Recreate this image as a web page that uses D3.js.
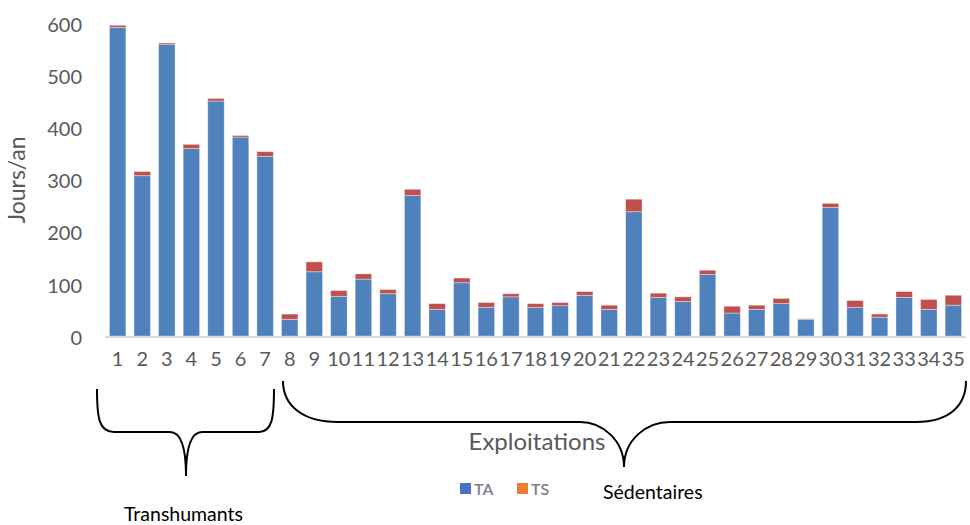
<!DOCTYPE html>
<html>
<head>
<meta charset="utf-8">
<script src="https://cdn.jsdelivr.net/npm/d3@7"></script>
<style>
  html, body { margin: 0; padding: 0; background: #ffffff; }
  svg { display: block; }
</style>
</head>
<body>
<svg id="chart" width="970" height="525"></svg>
<script>
const categories = ["1","2","3","4","5","6","7","8","9","10","11","12","13","14","15","16","17","18","19","20","21","22","23","24","25","26","27","28","29","30","31","32","33","34","35"];
const seriesNames = ["TA", "TS"];
const TA = [591, 307, 558, 359, 450, 381, 344, 32, 123, 76, 109, 81, 269, 51, 102, 55, 75, 55, 58, 78, 51, 238, 74, 66, 118, 44, 51, 62, 32, 246, 55, 36, 74, 51, 59];
const TS = [4, 8, 3, 8, 5, 3, 9, 10, 19, 11, 10, 8, 12, 11, 9, 9, 6, 7, 6, 7, 8, 24, 8, 9, 8, 13, 8, 10, 1, 8, 13, 6, 11, 19, 19];
const yTicks = [0, 100, 200, 300, 400, 500, 600];
const groupLabels = ["Transhumants", "Sédentaires"];
const axisTitleX = "Exploitations";
const axisTitleY = "Jours/an";

const barColors = { TA: "#4F81BD", TS: "#C0504D" };
const legendColors = { TA: "#4472C4", TS: "#ED7D31" };
const FONT = "Lato, 'Open Sans', sans-serif";

const svg = d3.select("#chart");

const x = d3.scaleBand().domain(categories).range([105, 966]).paddingInner(0.33).paddingOuter(0.18);
const y = d3.scaleLinear().domain([0, 600]).range([336, 22.7]);

const rows = categories.map((c, i) => ({ cat: c, TA: TA[i], TS: TS[i] }));
const stack = d3.stack().keys(seriesNames)(rows);

// bars
svg.append("g").selectAll("g").data(stack).join("g")
  .attr("fill", d => barColors[d.key])
  .selectAll("rect").data(d => d).join("rect")
  .attr("x", d => x(d.data.cat))
  .attr("width", x.bandwidth())
  .attr("y", d => y(d[1]))
  .attr("height", d => y(d[0]) - y(d[1]))
  .attr("stroke", "#ffffff")
  .attr("stroke-opacity", 0.45)
  .attr("stroke-width", 0.8);

// x axis line
svg.append("line")
  .attr("x1", 105).attr("x2", 966)
  .attr("y1", y(0) + 1).attr("y2", y(0) + 1)
  .attr("stroke", "#d9d9d9").attr("stroke-width", 2);

// y axis labels
const yAxis = d3.axisLeft(y).tickValues(yTicks).tickSize(0).tickPadding(0);
const gy = svg.append("g").attr("transform", "translate(82,2)").call(yAxis);
gy.select(".domain").remove();
gy.selectAll("text").attr("font-family", FONT).attr("font-size", 20).attr("fill", "#595959");

// x axis labels
const xAxis = d3.axisBottom(x).tickSize(0).tickPadding(0);
const gx = svg.append("g").attr("transform", "translate(0,352)").call(xAxis);
gx.select(".domain").remove();
gx.selectAll("text").attr("font-family", FONT).attr("font-size", 20).attr("fill", "#595959");

// y title
svg.append("text")
  .attr("transform", "translate(25,180) rotate(-90)")
  .attr("text-anchor", "middle")
  .attr("font-family", FONT).attr("font-size", 23).attr("fill", "#595959")
  .text(axisTitleY);

// braces
const braceL = d3.path();
braceL.moveTo(97, 389);
braceL.bezierCurveTo(97, 418, 99, 432, 114, 432);
braceL.lineTo(170, 432);
braceL.bezierCurveTo(180, 432, 186, 445, 186, 476);
braceL.bezierCurveTo(186, 445, 192, 432, 202, 432);
braceL.lineTo(259, 432);
braceL.bezierCurveTo(272, 432, 274, 418, 274, 389);

const braceR = d3.path();
braceR.moveTo(283, 381);
braceR.bezierCurveTo(283, 405, 302, 422, 338, 422);
braceR.lineTo(580, 422);
braceR.bezierCurveTo(602, 422, 624, 440, 624, 467);
braceR.bezierCurveTo(624, 440, 646, 422, 670, 422);
braceR.lineTo(916, 422);
braceR.bezierCurveTo(950, 422, 966, 405, 966, 381);

svg.append("path").attr("d", braceL.toString()).attr("fill", "none").attr("stroke", "#000").attr("stroke-width", 2);
svg.append("path").attr("d", braceR.toString()).attr("fill", "none").attr("stroke", "#000").attr("stroke-width", 2);

// x title
svg.append("text")
  .attr("x", 537).attr("y", 450)
  .attr("text-anchor", "middle")
  .attr("font-family", FONT).attr("font-size", 24).attr("fill", "#595959")
  .text(axisTitleX);

// legend
const legendPos = [{ key: "TA", x: 460 }, { key: "TS", x: 517 }];
const lg = svg.append("g");
lg.selectAll("rect").data(legendPos).join("rect")
  .attr("x", d => d.x).attr("y", 483).attr("width", 11).attr("height", 11)
  .attr("fill", d => legendColors[d.key]);
lg.selectAll("text").data(legendPos).join("text")
  .attr("x", d => d.x + 14).attr("y", 494.5)
  .attr("font-family", FONT).attr("font-size", 16).attr("font-weight", 600).attr("fill", "#7a7f8c")
  .text(d => d.key);

// group labels
svg.append("text").attr("x", 603).attr("y", 499)
  .attr("font-family", FONT).attr("font-size", 19.5).attr("fill", "#000")
  .text(groupLabels[1]);
svg.append("text").attr("x", 124).attr("y", 521)
  .attr("font-family", FONT).attr("font-size", 19.5).attr("fill", "#000")
  .text(groupLabels[0]);
</script>
</body>
</html>
